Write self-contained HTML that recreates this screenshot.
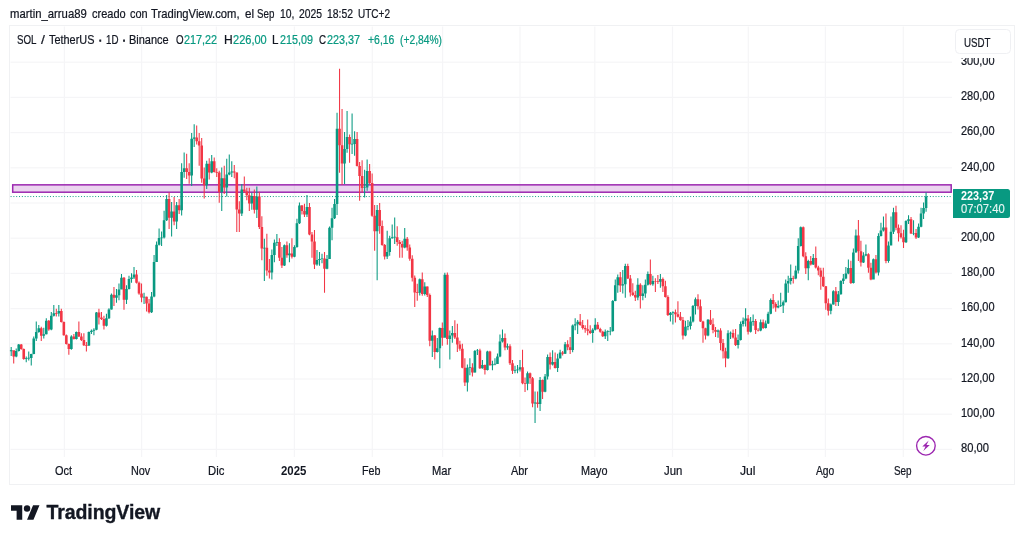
<!DOCTYPE html>
<html lang="es">
<head>
<meta charset="utf-8">
<title>SOL / TetherUS · 1D · Binance — TradingView</title>
<style>
html,body{margin:0;padding:0;background:#fff;}
body{width:1024px;height:541px;position:relative;overflow:hidden;font-family:"Liberation Sans",sans-serif;color:#131722;font-size:12.2px;line-height:14px;}
.abs{position:absolute;}
.w{position:absolute;white-space:pre;transform-origin:0 0;font-size:12.2px;line-height:14px;color:#131722;-webkit-text-stroke:0.22px currentColor;}
.w.g{color:#089981;}
.w.dot{-webkit-text-stroke:0.7px currentColor;}
.w.b,.w.pp{font-weight:700;-webkit-text-stroke:0;}
.w.pp{color:#fff;}
.w.pt{color:rgba(255,255,255,0.88);-webkit-text-stroke:0.15px currentColor;}
#frame{left:8.6px;top:24.6px;width:1004.9px;height:458.3px;border:1.6px solid #f0f1f3;box-sizing:content-box;}
#chart{position:absolute;left:0;top:0;width:1024px;height:541px;}
#grid rect{fill:#f5f5f7;}
#candles .g{fill:#089981;}
#candles .r{fill:#f23645;}
#mask{left:953px;top:26.5px;width:60px;height:31px;background:#fff;}
#usdt{left:955.2px;top:28.6px;width:56px;height:25.8px;border:1.2px solid #eff0f3;border-radius:4.5px;background:#fff;box-sizing:border-box;}
#plabel{left:952.9px;top:188.5px;width:56.9px;height:29.3px;background:#089981;border-radius:0.5px 2.5px 2.5px 0.5px;}
#logo{left:11.15px;top:501.75px;}
#logotext{left:46.5px;top:501.4px;font-size:19.5px;line-height:22px;font-weight:700;letter-spacing:-0.08px;-webkit-text-stroke:0.35px #131722;color:#131722;white-space:pre;}
</style>
</head>
<body>
<div id="frame" class="abs"></div>
<svg id="chart" width="1024" height="541" viewBox="0 0 1024 541">
<g id="grid">
<rect x="63.80" y="26.5" width="1.2" height="430.5"/>
<rect x="141.00" y="26.5" width="1.2" height="430.5"/>
<rect x="215.80" y="26.5" width="1.2" height="430.5"/>
<rect x="293.80" y="26.5" width="1.2" height="430.5"/>
<rect x="371.70" y="26.5" width="1.2" height="430.5"/>
<rect x="442.00" y="26.5" width="1.2" height="430.5"/>
<rect x="519.40" y="26.5" width="1.2" height="430.5"/>
<rect x="594.20" y="26.5" width="1.2" height="430.5"/>
<rect x="671.90" y="26.5" width="1.2" height="430.5"/>
<rect x="747.70" y="26.5" width="1.2" height="430.5"/>
<rect x="824.80" y="26.5" width="1.2" height="430.5"/>
<rect x="902.70" y="26.5" width="1.2" height="430.5"/>
<rect x="10.5" y="448.80" width="941.5" height="1.2"/>
<rect x="10.5" y="413.60" width="941.5" height="1.2"/>
<rect x="10.5" y="378.40" width="941.5" height="1.2"/>
<rect x="10.5" y="343.20" width="941.5" height="1.2"/>
<rect x="10.5" y="308.00" width="941.5" height="1.2"/>
<rect x="10.5" y="272.80" width="941.5" height="1.2"/>
<rect x="10.5" y="237.60" width="941.5" height="1.2"/>
<rect x="10.5" y="202.40" width="941.5" height="1.2"/>
<rect x="10.5" y="167.20" width="941.5" height="1.2"/>
<rect x="10.5" y="132.00" width="941.5" height="1.2"/>
<rect x="10.5" y="96.80" width="941.5" height="1.2"/>
<rect x="10.5" y="61.60" width="941.5" height="1.2"/>
</g>
<rect x="12.7" y="184.85" width="938.5" height="7.35" fill="rgba(156,39,176,0.2)" stroke="#9c27b0" stroke-width="1.5"/>
<line x1="10.6" x2="952" y1="196.55" y2="196.55" stroke="#089981" stroke-width="1" stroke-dasharray="0.95 1.87"/>
<g id="candles">
<path class="g" d="M10.67 347.1h1.05V355.9h-1.05zM9.90 350.3h2.6V351.3h-2.6z"/>
<path class="r" d="M13.18 350.3h1.05V363.5h-1.05zM12.41 350.3h2.6V356.6h-2.6z"/>
<path class="g" d="M15.69 348.4h1.05V357.2h-1.05zM14.91 350.9h2.6V356.6h-2.6z"/>
<path class="g" d="M18.19 344.0h1.05V351.6h-1.05zM17.42 344.6h2.6V350.9h-2.6z"/>
<path class="r" d="M20.70 344.0h1.05V349.7h-1.05zM19.93 344.6h2.6V349.0h-2.6z"/>
<path class="r" d="M23.21 348.4h1.05V359.7h-1.05zM22.43 349.0h2.6V359.1h-2.6z"/>
<path class="g" d="M25.71 356.6h1.05V362.2h-1.05zM24.94 358.2h2.6V359.1h-2.6z"/>
<path class="g" d="M28.22 351.6h1.05V360.4h-1.05zM27.45 357.8h2.6V358.5h-2.6z"/>
<path class="g" d="M30.73 353.8h1.05V365.4h-1.05zM29.95 354.1h2.6V358.1h-2.6z"/>
<path class="g" d="M33.23 336.5h1.05V354.3h-1.05zM32.46 338.4h2.6V354.1h-2.6z"/>
<path class="g" d="M35.74 321.4h1.05V340.9h-1.05zM34.97 332.1h2.6V338.4h-2.6z"/>
<path class="g" d="M38.25 325.1h1.05V332.7h-1.05zM37.47 328.3h2.6V332.1h-2.6z"/>
<path class="r" d="M40.75 326.7h1.05V340.9h-1.05zM39.98 328.3h2.6V335.8h-2.6z"/>
<path class="g" d="M43.26 327.7h1.05V338.4h-1.05zM42.48 334.2h2.6V335.8h-2.6z"/>
<path class="g" d="M45.77 318.2h1.05V334.6h-1.05zM44.99 320.8h2.6V334.2h-2.6z"/>
<path class="r" d="M48.27 320.1h1.05V330.8h-1.05zM47.50 320.8h2.6V329.6h-2.6z"/>
<path class="g" d="M50.78 311.9h1.05V330.2h-1.05zM50.00 315.7h2.6V329.6h-2.6z"/>
<path class="g" d="M53.29 305.0h1.05V316.4h-1.05zM52.51 313.2h2.6V315.7h-2.6z"/>
<path class="r" d="M55.79 308.8h1.05V316.4h-1.05zM55.02 313.0h2.6V313.7h-2.6z"/>
<path class="g" d="M58.30 305.0h1.05V316.4h-1.05zM57.52 310.9h2.6V313.6h-2.6z"/>
<path class="r" d="M60.80 308.8h1.05V322.6h-1.05zM60.03 310.9h2.6V322.0h-2.6z"/>
<path class="r" d="M63.31 321.4h1.05V335.8h-1.05zM62.54 322.0h2.6V335.2h-2.6z"/>
<path class="r" d="M65.82 334.6h1.05V344.6h-1.05zM65.04 335.2h2.6V344.0h-2.6z"/>
<path class="r" d="M68.32 343.4h1.05V354.7h-1.05zM67.55 344.0h2.6V349.0h-2.6z"/>
<path class="g" d="M70.83 335.2h1.05V349.7h-1.05zM70.06 336.5h2.6V349.0h-2.6z"/>
<path class="r" d="M73.34 333.9h1.05V339.6h-1.05zM72.56 336.5h2.6V339.0h-2.6z"/>
<path class="g" d="M75.84 331.4h1.05V339.6h-1.05zM75.07 332.1h2.6V339.0h-2.6z"/>
<path class="r" d="M78.35 321.4h1.05V337.1h-1.05zM77.58 332.1h2.6V336.5h-2.6z"/>
<path class="r" d="M80.86 333.3h1.05V340.9h-1.05zM80.08 336.5h2.6V340.0h-2.6z"/>
<path class="r" d="M83.36 333.3h1.05V345.9h-1.05zM82.59 340.0h2.6V345.3h-2.6z"/>
<path class="r" d="M85.87 342.1h1.05V351.6h-1.05zM85.09 345.0h2.6V345.7h-2.6z"/>
<path class="g" d="M88.38 331.4h1.05V345.9h-1.05zM87.60 332.1h2.6V345.5h-2.6z"/>
<path class="g" d="M90.88 329.6h1.05V333.9h-1.05zM90.11 330.8h2.6V332.1h-2.6z"/>
<path class="g" d="M93.39 328.3h1.05V335.2h-1.05zM92.61 329.8h2.6V330.8h-2.6z"/>
<path class="g" d="M95.90 311.9h1.05V330.2h-1.05zM95.12 312.6h2.6V329.8h-2.6z"/>
<path class="r" d="M98.40 308.8h1.05V324.5h-1.05zM97.63 312.6h2.6V317.6h-2.6z"/>
<path class="r" d="M100.91 311.9h1.05V320.1h-1.05zM100.13 317.6h2.6V318.9h-2.6z"/>
<path class="r" d="M103.42 315.7h1.05V329.6h-1.05zM102.64 318.9h2.6V325.8h-2.6z"/>
<path class="g" d="M105.92 313.8h1.05V326.4h-1.05zM105.15 318.2h2.6V325.8h-2.6z"/>
<path class="g" d="M108.43 308.2h1.05V318.9h-1.05zM107.65 309.4h2.6V318.2h-2.6z"/>
<path class="g" d="M110.93 293.4h1.05V309.8h-1.05zM110.16 294.7h2.6V309.4h-2.6z"/>
<path class="r" d="M113.44 287.1h1.05V306.0h-1.05zM112.67 294.7h2.6V297.8h-2.6z"/>
<path class="g" d="M115.95 289.0h1.05V302.8h-1.05zM115.17 295.3h2.6V297.8h-2.6z"/>
<path class="g" d="M118.45 283.4h1.05V300.3h-1.05zM117.68 289.6h2.6V295.3h-2.6z"/>
<path class="g" d="M120.96 273.9h1.05V289.6h-1.05zM120.19 277.7h2.6V289.6h-2.6z"/>
<path class="r" d="M123.47 277.1h1.05V309.8h-1.05zM122.69 277.7h2.6V299.7h-2.6z"/>
<path class="g" d="M125.97 285.2h1.05V304.1h-1.05zM125.20 289.0h2.6V299.7h-2.6z"/>
<path class="g" d="M128.48 275.8h1.05V289.6h-1.05zM127.71 278.9h2.6V289.0h-2.6z"/>
<path class="g" d="M130.99 273.3h1.05V282.7h-1.05zM130.21 277.4h2.6V278.9h-2.6z"/>
<path class="g" d="M133.49 267.0h1.05V278.9h-1.05zM132.72 274.6h2.6V277.4h-2.6z"/>
<path class="r" d="M136.00 270.1h1.05V283.4h-1.05zM135.22 274.6h2.6V282.7h-2.6z"/>
<path class="r" d="M138.51 281.5h1.05V294.7h-1.05zM137.73 282.7h2.6V293.4h-2.6z"/>
<path class="r" d="M141.01 283.4h1.05V302.2h-1.05zM140.24 293.4h2.6V297.6h-2.6z"/>
<path class="g" d="M143.52 292.8h1.05V304.1h-1.05zM142.74 296.8h2.6V297.6h-2.6z"/>
<path class="r" d="M146.03 296.6h1.05V311.6h-1.05zM145.25 296.8h2.6V303.5h-2.6z"/>
<path class="r" d="M148.53 299.1h1.05V313.5h-1.05zM147.76 303.5h2.6V312.3h-2.6z"/>
<path class="g" d="M151.04 292.1h1.05V312.9h-1.05zM150.26 296.6h2.6V312.3h-2.6z"/>
<path class="g" d="M153.55 255.1h1.05V297.2h-1.05zM152.77 262.0h2.6V296.6h-2.6z"/>
<path class="g" d="M156.05 241.6h1.05V262.0h-1.05zM155.28 244.8h2.6V262.0h-2.6z"/>
<path class="g" d="M158.56 228.4h1.05V245.4h-1.05zM157.78 238.1h2.6V244.8h-2.6z"/>
<path class="g" d="M161.06 231.6h1.05V246.0h-1.05zM160.29 237.5h2.6V238.2h-2.6z"/>
<path class="g" d="M163.57 210.8h1.05V238.5h-1.05zM162.80 220.2h2.6V237.6h-2.6z"/>
<path class="g" d="M166.08 195.1h1.05V220.9h-1.05zM165.30 198.9h2.6V220.2h-2.6z"/>
<path class="r" d="M168.58 192.6h1.05V229.0h-1.05zM167.81 198.9h2.6V217.7h-2.6z"/>
<path class="g" d="M171.09 202.0h1.05V236.6h-1.05zM170.32 211.4h2.6V217.7h-2.6z"/>
<path class="r" d="M173.60 197.0h1.05V225.3h-1.05zM172.82 211.4h2.6V221.5h-2.6z"/>
<path class="g" d="M176.10 202.0h1.05V229.0h-1.05zM175.33 205.2h2.6V221.5h-2.6z"/>
<path class="r" d="M178.61 198.9h1.05V213.9h-1.05zM177.84 205.2h2.6V210.2h-2.6z"/>
<path class="g" d="M181.12 163.3h1.05V215.4h-1.05zM180.34 172.1h2.6V210.2h-2.6z"/>
<path class="g" d="M183.62 152.6h1.05V177.7h-1.05zM182.85 168.3h2.6V172.1h-2.6z"/>
<path class="r" d="M186.13 153.8h1.05V179.0h-1.05zM185.35 168.3h2.6V172.1h-2.6z"/>
<path class="r" d="M188.64 163.3h1.05V183.8h-1.05zM187.86 172.1h2.6V175.6h-2.6z"/>
<path class="g" d="M191.14 133.1h1.05V185.9h-1.05zM190.37 138.8h2.6V175.6h-2.6z"/>
<path class="g" d="M193.65 124.3h1.05V146.9h-1.05zM192.87 137.5h2.6V138.8h-2.6z"/>
<path class="r" d="M196.16 125.5h1.05V144.4h-1.05zM195.38 137.5h2.6V141.3h-2.6z"/>
<path class="r" d="M198.66 133.1h1.05V165.8h-1.05zM197.89 141.3h2.6V145.4h-2.6z"/>
<path class="r" d="M201.17 138.1h1.05V182.7h-1.05zM200.39 145.4h2.6V178.4h-2.6z"/>
<path class="r" d="M203.68 167.6h1.05V198.4h-1.05zM202.90 178.4h2.6V185.2h-2.6z"/>
<path class="g" d="M206.18 160.7h1.05V189.0h-1.05zM205.41 163.8h2.6V185.2h-2.6z"/>
<path class="r" d="M208.69 158.2h1.05V179.6h-1.05zM207.91 163.8h2.6V172.4h-2.6z"/>
<path class="g" d="M211.19 155.0h1.05V173.3h-1.05zM210.42 161.3h2.6V172.4h-2.6z"/>
<path class="r" d="M213.70 157.5h1.05V172.6h-1.05zM212.93 161.3h2.6V172.0h-2.6z"/>
<path class="r" d="M216.21 168.2h1.05V177.0h-1.05zM215.43 172.0h2.6V172.7h-2.6z"/>
<path class="r" d="M218.71 170.8h1.05V202.8h-1.05zM217.94 172.6h2.6V192.1h-2.6z"/>
<path class="g" d="M221.22 167.6h1.05V211.0h-1.05zM220.45 178.3h2.6V192.1h-2.6z"/>
<path class="r" d="M223.73 165.7h1.05V194.0h-1.05zM222.95 178.3h2.6V187.5h-2.6z"/>
<path class="g" d="M226.23 158.8h1.05V196.5h-1.05zM225.46 174.5h2.6V187.5h-2.6z"/>
<path class="g" d="M228.74 154.4h1.05V175.2h-1.05zM227.97 172.4h2.6V174.5h-2.6z"/>
<path class="g" d="M231.25 161.3h1.05V177.0h-1.05zM230.47 171.6h2.6V172.4h-2.6z"/>
<path class="r" d="M233.75 165.1h1.05V178.3h-1.05zM232.98 171.6h2.6V172.6h-2.6z"/>
<path class="r" d="M236.26 172.3h1.05V232.0h-1.05zM235.48 172.6h2.6V209.4h-2.6z"/>
<path class="r" d="M238.77 201.2h1.05V232.0h-1.05zM237.99 209.4h2.6V213.6h-2.6z"/>
<path class="g" d="M241.27 183.9h1.05V216.0h-1.05zM240.50 189.6h2.6V213.6h-2.6z"/>
<path class="r" d="M243.78 176.4h1.05V192.8h-1.05zM243.00 189.6h2.6V191.5h-2.6z"/>
<path class="r" d="M246.29 187.7h1.05V200.3h-1.05zM245.51 191.5h2.6V195.3h-2.6z"/>
<path class="r" d="M248.79 187.7h1.05V211.0h-1.05zM248.02 195.3h2.6V203.4h-2.6z"/>
<path class="g" d="M251.30 192.8h1.05V209.7h-1.05zM250.52 195.9h2.6V203.4h-2.6z"/>
<path class="r" d="M253.81 189.6h1.05V213.5h-1.05zM253.03 195.9h2.6V209.7h-2.6z"/>
<path class="g" d="M256.31 186.5h1.05V217.9h-1.05zM255.54 196.5h2.6V209.7h-2.6z"/>
<path class="r" d="M258.82 191.8h1.05V228.9h-1.05zM258.04 196.5h2.6V227.0h-2.6z"/>
<path class="r" d="M261.33 216.3h1.05V260.3h-1.05zM260.55 227.0h2.6V248.4h-2.6z"/>
<path class="g" d="M263.83 238.7h1.05V280.9h-1.05zM263.06 247.7h2.6V248.4h-2.6z"/>
<path class="r" d="M266.34 233.7h1.05V275.8h-1.05zM265.56 247.8h2.6V270.6h-2.6z"/>
<path class="r" d="M268.84 258.9h1.05V278.4h-1.05zM268.07 270.6h2.6V272.4h-2.6z"/>
<path class="g" d="M271.35 249.4h1.05V279.6h-1.05zM270.58 255.1h2.6V272.4h-2.6z"/>
<path class="g" d="M273.86 239.6h1.05V262.2h-1.05zM273.08 242.7h2.6V255.1h-2.6z"/>
<path class="g" d="M276.36 233.9h1.05V245.9h-1.05zM275.59 242.1h2.6V242.8h-2.6z"/>
<path class="r" d="M278.87 238.3h1.05V260.9h-1.05zM278.10 242.1h2.6V257.8h-2.6z"/>
<path class="r" d="M281.38 247.1h1.05V267.9h-1.05zM280.60 257.8h2.6V265.4h-2.6z"/>
<path class="g" d="M283.88 244.6h1.05V266.0h-1.05zM283.11 245.2h2.6V265.4h-2.6z"/>
<path class="r" d="M286.39 241.5h1.05V257.8h-1.05zM285.61 245.2h2.6V255.3h-2.6z"/>
<path class="g" d="M288.90 243.3h1.05V262.2h-1.05zM288.12 253.4h2.6V255.3h-2.6z"/>
<path class="r" d="M291.40 238.3h1.05V258.4h-1.05zM290.63 253.4h2.6V256.8h-2.6z"/>
<path class="g" d="M293.91 245.2h1.05V257.2h-1.05zM293.13 247.1h2.6V256.8h-2.6z"/>
<path class="g" d="M296.42 218.8h1.05V247.8h-1.05zM295.64 223.2h2.6V247.1h-2.6z"/>
<path class="g" d="M298.92 202.5h1.05V223.9h-1.05zM298.15 205.4h2.6V223.2h-2.6z"/>
<path class="r" d="M301.43 205.0h1.05V214.4h-1.05zM300.65 205.4h2.6V211.0h-2.6z"/>
<path class="r" d="M303.94 203.7h1.05V216.9h-1.05zM303.16 211.0h2.6V214.4h-2.6z"/>
<path class="g" d="M306.44 194.9h1.05V216.9h-1.05zM305.67 206.9h2.6V214.4h-2.6z"/>
<path class="r" d="M308.95 203.1h1.05V235.2h-1.05zM308.17 206.9h2.6V234.6h-2.6z"/>
<path class="r" d="M311.45 232.0h1.05V257.8h-1.05zM310.68 234.6h2.6V241.5h-2.6z"/>
<path class="r" d="M313.96 229.9h1.05V268.9h-1.05zM313.19 241.5h2.6V264.5h-2.6z"/>
<path class="g" d="M316.47 250.1h1.05V265.8h-1.05zM315.69 260.1h2.6V264.5h-2.6z"/>
<path class="g" d="M318.97 251.9h1.05V265.8h-1.05zM318.20 259.1h2.6V260.1h-2.6z"/>
<path class="g" d="M321.48 253.8h1.05V263.3h-1.05zM320.71 258.4h2.6V259.1h-2.6z"/>
<path class="r" d="M323.99 251.9h1.05V292.8h-1.05zM323.21 258.5h2.6V268.7h-2.6z"/>
<path class="g" d="M326.49 255.1h1.05V269.2h-1.05zM325.72 258.9h2.6V268.7h-2.6z"/>
<path class="g" d="M329.00 226.5h1.05V258.9h-1.05zM328.23 227.8h2.6V258.9h-2.6z"/>
<path class="g" d="M331.51 207.7h1.05V240.3h-1.05zM330.73 218.3h2.6V227.8h-2.6z"/>
<path class="g" d="M334.01 198.9h1.05V219.0h-1.05zM333.24 203.9h2.6V218.3h-2.6z"/>
<path class="g" d="M336.52 112.8h1.05V214.9h-1.05zM335.74 128.8h2.6V203.9h-2.6z"/>
<path class="r" d="M339.03 68.8h1.05V172.8h-1.05zM338.25 128.8h2.6V145.2h-2.6z"/>
<path class="r" d="M341.53 109.1h1.05V184.8h-1.05zM340.76 145.2h2.6V163.4h-2.6z"/>
<path class="g" d="M344.04 131.9h1.05V184.1h-1.05zM343.26 148.9h2.6V163.4h-2.6z"/>
<path class="g" d="M346.55 111.0h1.05V152.7h-1.05zM345.77 137.0h2.6V148.9h-2.6z"/>
<path class="r" d="M349.05 134.5h1.05V162.8h-1.05zM348.28 137.0h2.6V144.3h-2.6z"/>
<path class="g" d="M351.56 113.5h1.05V153.9h-1.05zM350.78 143.7h2.6V144.4h-2.6z"/>
<path class="g" d="M354.07 131.3h1.05V155.8h-1.05zM353.29 138.9h2.6V143.9h-2.6z"/>
<path class="r" d="M356.57 131.9h1.05V166.5h-1.05zM355.80 138.9h2.6V165.9h-2.6z"/>
<path class="r" d="M359.08 162.1h1.05V200.7h-1.05zM358.30 165.9h2.6V175.9h-2.6z"/>
<path class="r" d="M361.58 160.2h1.05V192.6h-1.05zM360.81 175.9h2.6V187.9h-2.6z"/>
<path class="g" d="M364.09 169.7h1.05V197.6h-1.05zM363.32 187.4h2.6V188.1h-2.6z"/>
<path class="g" d="M366.60 159.6h1.05V190.7h-1.05zM365.82 170.9h2.6V187.5h-2.6z"/>
<path class="r" d="M369.10 164.0h1.05V184.1h-1.05zM368.33 170.9h2.6V182.9h-2.6z"/>
<path class="r" d="M371.61 173.4h1.05V216.8h-1.05zM370.84 182.9h2.6V215.8h-2.6z"/>
<path class="r" d="M374.12 204.9h1.05V250.8h-1.05zM373.34 215.8h2.6V231.3h-2.6z"/>
<path class="g" d="M376.62 204.9h1.05V280.3h-1.05zM375.85 209.9h2.6V231.3h-2.6z"/>
<path class="r" d="M379.13 203.0h1.05V233.8h-1.05zM378.36 209.9h2.6V226.0h-2.6z"/>
<path class="r" d="M381.64 220.6h1.05V245.8h-1.05zM380.86 226.0h2.6V245.1h-2.6z"/>
<path class="r" d="M384.14 243.9h1.05V259.6h-1.05zM383.37 245.1h2.6V256.4h-2.6z"/>
<path class="g" d="M386.65 230.7h1.05V258.9h-1.05zM385.87 252.0h2.6V256.4h-2.6z"/>
<path class="g" d="M389.16 235.7h1.05V255.8h-1.05zM388.38 238.2h2.6V252.0h-2.6z"/>
<path class="g" d="M391.66 224.4h1.05V238.8h-1.05zM390.89 237.2h2.6V238.2h-2.6z"/>
<path class="g" d="M394.17 217.5h1.05V243.9h-1.05zM393.39 236.8h2.6V237.5h-2.6z"/>
<path class="r" d="M396.68 226.3h1.05V245.8h-1.05zM395.90 237.2h2.6V242.0h-2.6z"/>
<path class="r" d="M399.18 240.1h1.05V257.7h-1.05zM398.41 242.0h2.6V243.9h-2.6z"/>
<path class="r" d="M401.69 240.7h1.05V257.7h-1.05zM400.91 243.9h2.6V247.6h-2.6z"/>
<path class="g" d="M404.20 228.1h1.05V248.3h-1.05zM403.42 238.8h2.6V247.6h-2.6z"/>
<path class="r" d="M406.70 236.9h1.05V250.8h-1.05zM405.93 238.8h2.6V247.4h-2.6z"/>
<path class="r" d="M409.21 244.5h1.05V260.8h-1.05zM408.43 247.4h2.6V258.7h-2.6z"/>
<path class="r" d="M411.71 255.2h1.05V281.6h-1.05zM410.94 258.7h2.6V277.8h-2.6z"/>
<path class="r" d="M414.22 275.6h1.05V307.0h-1.05zM413.45 277.8h2.6V292.5h-2.6z"/>
<path class="r" d="M416.73 283.7h1.05V300.7h-1.05zM415.95 292.3h2.6V293.0h-2.6z"/>
<path class="g" d="M419.23 278.4h1.05V295.4h-1.05zM418.46 279.3h2.6V292.8h-2.6z"/>
<path class="r" d="M421.74 272.4h1.05V295.7h-1.05zM420.97 279.3h2.6V294.1h-2.6z"/>
<path class="g" d="M424.25 282.2h1.05V295.4h-1.05zM423.47 286.6h2.6V294.1h-2.6z"/>
<path class="r" d="M426.75 286.3h1.05V296.9h-1.05zM425.98 286.6h2.6V295.1h-2.6z"/>
<path class="r" d="M429.26 293.5h1.05V346.3h-1.05zM428.49 295.1h2.6V340.7h-2.6z"/>
<path class="g" d="M431.77 330.6h1.05V357.0h-1.05zM430.99 335.4h2.6V340.7h-2.6z"/>
<path class="r" d="M434.27 335.0h1.05V359.5h-1.05zM433.50 335.4h2.6V352.0h-2.6z"/>
<path class="g" d="M436.78 338.1h1.05V352.6h-1.05zM436.00 348.2h2.6V352.0h-2.6z"/>
<path class="g" d="M439.29 327.5h1.05V368.3h-1.05zM438.51 328.1h2.6V348.2h-2.6z"/>
<path class="r" d="M441.79 322.4h1.05V345.7h-1.05zM441.02 328.1h2.6V337.8h-2.6z"/>
<path class="g" d="M444.30 272.8h1.05V337.8h-1.05zM443.52 274.7h2.6V337.8h-2.6z"/>
<path class="r" d="M446.81 272.4h1.05V344.7h-1.05zM446.03 274.7h2.6V339.1h-2.6z"/>
<path class="g" d="M449.31 330.6h1.05V359.5h-1.05zM448.54 335.4h2.6V339.1h-2.6z"/>
<path class="g" d="M451.82 325.9h1.05V342.8h-1.05zM451.04 333.0h2.6V335.4h-2.6z"/>
<path class="r" d="M454.33 320.2h1.05V339.1h-1.05zM453.55 333.0h2.6V337.6h-2.6z"/>
<path class="r" d="M456.83 323.7h1.05V352.0h-1.05zM456.06 337.6h2.6V344.4h-2.6z"/>
<path class="r" d="M459.34 340.7h1.05V350.7h-1.05zM458.56 344.4h2.6V348.8h-2.6z"/>
<path class="r" d="M461.85 343.8h1.05V368.3h-1.05zM461.07 348.8h2.6V367.7h-2.6z"/>
<path class="r" d="M464.35 358.3h1.05V385.9h-1.05zM463.58 367.7h2.6V382.5h-2.6z"/>
<path class="g" d="M466.86 364.6h1.05V391.6h-1.05zM466.08 367.7h2.6V382.5h-2.6z"/>
<path class="g" d="M469.36 358.3h1.05V375.2h-1.05zM468.59 367.2h2.6V367.9h-2.6z"/>
<path class="r" d="M471.87 363.3h1.05V376.5h-1.05zM471.10 367.4h2.6V372.5h-2.6z"/>
<path class="g" d="M474.38 350.1h1.05V372.7h-1.05zM473.60 351.0h2.6V372.5h-2.6z"/>
<path class="g" d="M476.88 349.1h1.05V355.1h-1.05zM476.11 350.4h2.6V351.1h-2.6z"/>
<path class="r" d="M479.39 348.8h1.05V368.9h-1.05zM478.62 350.5h2.6V368.3h-2.6z"/>
<path class="g" d="M481.90 360.1h1.05V368.7h-1.05zM481.12 364.9h2.6V368.3h-2.6z"/>
<path class="r" d="M484.40 364.6h1.05V374.6h-1.05zM483.63 364.9h2.6V369.9h-2.6z"/>
<path class="g" d="M486.91 350.7h1.05V370.5h-1.05zM486.13 351.4h2.6V369.9h-2.6z"/>
<path class="r" d="M489.42 350.7h1.05V365.8h-1.05zM488.64 351.4h2.6V365.2h-2.6z"/>
<path class="g" d="M491.92 360.8h1.05V370.2h-1.05zM491.15 364.3h2.6V365.2h-2.6z"/>
<path class="g" d="M494.43 358.3h1.05V365.2h-1.05zM493.65 363.8h2.6V364.5h-2.6z"/>
<path class="g" d="M496.94 353.5h1.05V363.9h-1.05zM496.16 356.6h2.6V363.9h-2.6z"/>
<path class="g" d="M499.44 334.6h1.05V357.2h-1.05zM498.67 341.5h2.6V356.6h-2.6z"/>
<path class="g" d="M501.95 329.6h1.05V342.5h-1.05zM501.17 338.0h2.6V341.5h-2.6z"/>
<path class="r" d="M504.46 333.4h1.05V350.3h-1.05zM503.68 338.0h2.6V347.6h-2.6z"/>
<path class="g" d="M506.96 343.4h1.05V349.7h-1.05zM506.19 346.2h2.6V347.6h-2.6z"/>
<path class="r" d="M509.47 344.3h1.05V365.1h-1.05zM508.69 346.2h2.6V363.2h-2.6z"/>
<path class="r" d="M511.98 360.0h1.05V373.9h-1.05zM511.20 363.2h2.6V370.7h-2.6z"/>
<path class="g" d="M514.48 365.7h1.05V373.2h-1.05zM513.71 370.1h2.6V370.8h-2.6z"/>
<path class="g" d="M516.99 365.1h1.05V373.2h-1.05zM516.21 369.5h2.6V370.2h-2.6z"/>
<path class="g" d="M519.49 360.0h1.05V371.6h-1.05zM518.72 367.2h2.6V369.6h-2.6z"/>
<path class="r" d="M522.00 349.7h1.05V384.3h-1.05zM521.23 367.2h2.6V383.3h-2.6z"/>
<path class="r" d="M524.51 377.6h1.05V392.1h-1.05zM523.73 383.1h2.6V383.8h-2.6z"/>
<path class="g" d="M527.01 371.4h1.05V390.2h-1.05zM526.24 373.2h2.6V383.7h-2.6z"/>
<path class="r" d="M529.52 372.6h1.05V383.9h-1.05zM528.75 373.2h2.6V378.3h-2.6z"/>
<path class="r" d="M532.03 377.0h1.05V407.2h-1.05zM531.25 378.3h2.6V403.4h-2.6z"/>
<path class="g" d="M534.53 391.5h1.05V422.9h-1.05zM533.76 402.5h2.6V403.4h-2.6z"/>
<path class="r" d="M537.04 391.5h1.05V407.8h-1.05zM536.27 402.5h2.6V404.0h-2.6z"/>
<path class="g" d="M539.55 377.0h1.05V410.9h-1.05zM538.77 380.1h2.6V404.0h-2.6z"/>
<path class="r" d="M542.05 379.5h1.05V399.0h-1.05zM541.28 380.1h2.6V391.8h-2.6z"/>
<path class="g" d="M544.56 373.9h1.05V392.3h-1.05zM543.78 376.6h2.6V391.8h-2.6z"/>
<path class="g" d="M547.07 354.4h1.05V379.5h-1.05zM546.29 357.1h2.6V376.6h-2.6z"/>
<path class="r" d="M549.57 352.5h1.05V369.5h-1.05zM548.80 357.1h2.6V364.4h-2.6z"/>
<path class="g" d="M552.08 350.3h1.05V365.4h-1.05zM551.30 362.1h2.6V364.4h-2.6z"/>
<path class="r" d="M554.59 352.5h1.05V368.6h-1.05zM553.81 362.1h2.6V367.9h-2.6z"/>
<path class="g" d="M557.09 353.7h1.05V372.0h-1.05zM556.32 358.4h2.6V367.9h-2.6z"/>
<path class="g" d="M559.60 349.7h1.05V358.5h-1.05zM558.82 352.5h2.6V358.4h-2.6z"/>
<path class="r" d="M562.11 350.9h1.05V355.4h-1.05zM561.33 352.5h2.6V353.8h-2.6z"/>
<path class="g" d="M564.61 342.1h1.05V354.1h-1.05zM563.84 344.3h2.6V353.8h-2.6z"/>
<path class="r" d="M567.12 340.3h1.05V350.3h-1.05zM566.34 344.3h2.6V347.2h-2.6z"/>
<path class="r" d="M569.62 337.1h1.05V354.1h-1.05zM568.85 347.2h2.6V350.1h-2.6z"/>
<path class="g" d="M572.13 324.6h1.05V352.2h-1.05zM571.36 325.4h2.6V350.1h-2.6z"/>
<path class="g" d="M574.64 318.3h1.05V330.2h-1.05zM573.86 324.2h2.6V325.4h-2.6z"/>
<path class="g" d="M577.14 320.1h1.05V334.0h-1.05zM576.37 321.7h2.6V324.2h-2.6z"/>
<path class="r" d="M579.65 313.9h1.05V325.8h-1.05zM578.88 321.7h2.6V324.9h-2.6z"/>
<path class="r" d="M582.16 320.1h1.05V329.6h-1.05zM581.38 324.9h2.6V327.9h-2.6z"/>
<path class="r" d="M584.66 325.2h1.05V332.7h-1.05zM583.89 327.9h2.6V329.2h-2.6z"/>
<path class="r" d="M587.17 319.5h1.05V335.2h-1.05zM586.40 329.2h2.6V330.8h-2.6z"/>
<path class="r" d="M589.68 325.2h1.05V334.0h-1.05zM588.90 330.8h2.6V333.1h-2.6z"/>
<path class="g" d="M592.18 328.3h1.05V342.8h-1.05zM591.41 329.8h2.6V333.1h-2.6z"/>
<path class="g" d="M594.69 318.3h1.05V330.5h-1.05zM593.91 324.8h2.6V329.8h-2.6z"/>
<path class="r" d="M597.20 322.0h1.05V329.6h-1.05zM596.42 324.8h2.6V328.9h-2.6z"/>
<path class="r" d="M599.70 327.7h1.05V332.7h-1.05zM598.93 328.9h2.6V331.8h-2.6z"/>
<path class="r" d="M602.21 330.8h1.05V337.1h-1.05zM601.43 331.8h2.6V336.2h-2.6z"/>
<path class="g" d="M604.72 329.6h1.05V339.0h-1.05zM603.94 331.7h2.6V336.2h-2.6z"/>
<path class="g" d="M607.22 330.2h1.05V340.9h-1.05zM606.45 331.2h2.6V331.9h-2.6z"/>
<path class="g" d="M609.73 327.1h1.05V335.2h-1.05zM608.95 330.9h2.6V331.6h-2.6z"/>
<path class="g" d="M612.24 300.0h1.05V331.7h-1.05zM611.46 300.9h2.6V331.1h-2.6z"/>
<path class="g" d="M614.74 279.5h1.05V301.3h-1.05zM613.97 285.2h2.6V300.9h-2.6z"/>
<path class="g" d="M617.25 274.5h1.05V292.7h-1.05zM616.47 277.3h2.6V285.2h-2.6z"/>
<path class="r" d="M619.75 272.0h1.05V292.1h-1.05zM618.98 277.3h2.6V285.6h-2.6z"/>
<path class="g" d="M622.26 270.1h1.05V293.4h-1.05zM621.49 284.2h2.6V285.6h-2.6z"/>
<path class="g" d="M624.77 263.8h1.05V297.8h-1.05zM623.99 265.9h2.6V284.2h-2.6z"/>
<path class="r" d="M627.27 263.8h1.05V279.1h-1.05zM626.50 265.9h2.6V278.6h-2.6z"/>
<path class="r" d="M629.78 275.1h1.05V296.5h-1.05zM629.01 278.6h2.6V292.5h-2.6z"/>
<path class="r" d="M632.29 283.3h1.05V295.9h-1.05zM631.51 292.5h2.6V295.0h-2.6z"/>
<path class="r" d="M634.79 290.8h1.05V300.9h-1.05zM634.02 295.0h2.6V297.5h-2.6z"/>
<path class="g" d="M637.30 278.3h1.05V300.3h-1.05zM636.53 284.8h2.6V297.5h-2.6z"/>
<path class="r" d="M639.81 283.3h1.05V308.4h-1.05zM639.03 284.8h2.6V295.9h-2.6z"/>
<path class="g" d="M642.31 285.2h1.05V300.3h-1.05zM641.54 293.6h2.6V295.9h-2.6z"/>
<path class="g" d="M644.82 279.5h1.05V297.8h-1.05zM644.04 284.8h2.6V293.6h-2.6z"/>
<path class="g" d="M647.33 271.4h1.05V285.4h-1.05zM646.55 274.1h2.6V284.8h-2.6z"/>
<path class="r" d="M649.83 259.4h1.05V285.2h-1.05zM649.06 274.1h2.6V284.3h-2.6z"/>
<path class="g" d="M652.34 275.8h1.05V285.8h-1.05zM651.56 281.0h2.6V284.3h-2.6z"/>
<path class="r" d="M654.85 278.3h1.05V292.1h-1.05zM654.07 280.9h2.6V281.6h-2.6z"/>
<path class="r" d="M657.35 275.1h1.05V283.9h-1.05zM656.58 281.2h2.6V281.9h-2.6z"/>
<path class="g" d="M659.86 273.9h1.05V287.7h-1.05zM659.08 279.1h2.6V281.7h-2.6z"/>
<path class="r" d="M662.37 277.6h1.05V292.1h-1.05zM661.59 279.1h2.6V286.2h-2.6z"/>
<path class="r" d="M664.87 280.8h1.05V297.5h-1.05zM664.10 286.2h2.6V296.9h-2.6z"/>
<path class="r" d="M667.38 295.2h1.05V316.0h-1.05zM666.60 296.9h2.6V315.1h-2.6z"/>
<path class="g" d="M669.88 311.9h1.05V321.4h-1.05zM669.11 312.9h2.6V315.1h-2.6z"/>
<path class="g" d="M672.39 311.3h1.05V324.5h-1.05zM671.62 312.3h2.6V313.0h-2.6z"/>
<path class="r" d="M674.90 309.4h1.05V322.6h-1.05zM674.12 312.3h2.6V314.2h-2.6z"/>
<path class="r" d="M677.40 301.3h1.05V317.6h-1.05zM676.63 314.2h2.6V316.7h-2.6z"/>
<path class="r" d="M679.91 311.9h1.05V320.8h-1.05zM679.14 316.7h2.6V319.9h-2.6z"/>
<path class="r" d="M682.42 317.0h1.05V339.6h-1.05zM681.64 319.9h2.6V335.6h-2.6z"/>
<path class="g" d="M684.92 320.8h1.05V336.2h-1.05zM684.15 326.7h2.6V335.6h-2.6z"/>
<path class="g" d="M687.43 320.1h1.05V330.2h-1.05zM686.66 326.0h2.6V326.7h-2.6z"/>
<path class="g" d="M689.94 316.4h1.05V329.6h-1.05zM689.16 321.6h2.6V326.0h-2.6z"/>
<path class="g" d="M692.44 305.0h1.05V322.4h-1.05zM691.67 305.9h2.6V321.6h-2.6z"/>
<path class="g" d="M694.95 297.5h1.05V314.5h-1.05zM694.17 299.2h2.6V305.9h-2.6z"/>
<path class="r" d="M697.46 294.3h1.05V309.4h-1.05zM696.68 299.2h2.6V306.3h-2.6z"/>
<path class="r" d="M699.96 299.4h1.05V322.0h-1.05zM699.19 306.3h2.6V321.4h-2.6z"/>
<path class="r" d="M702.47 320.8h1.05V342.8h-1.05zM701.69 321.4h2.6V328.3h-2.6z"/>
<path class="r" d="M704.98 327.7h1.05V339.6h-1.05zM704.20 328.3h2.6V335.6h-2.6z"/>
<path class="g" d="M707.48 318.9h1.05V336.2h-1.05zM706.71 319.7h2.6V335.6h-2.6z"/>
<path class="r" d="M709.99 310.1h1.05V325.1h-1.05zM709.21 319.7h2.6V324.3h-2.6z"/>
<path class="r" d="M712.50 318.2h1.05V333.3h-1.05zM711.72 324.3h2.6V329.9h-2.6z"/>
<path class="r" d="M715.00 327.0h1.05V337.1h-1.05zM714.23 329.9h2.6V331.8h-2.6z"/>
<path class="g" d="M717.51 329.6h1.05V337.7h-1.05zM716.73 330.6h2.6V331.8h-2.6z"/>
<path class="r" d="M720.01 328.3h1.05V350.3h-1.05zM719.24 330.6h2.6V343.1h-2.6z"/>
<path class="r" d="M722.52 339.0h1.05V358.5h-1.05zM721.75 343.1h2.6V351.3h-2.6z"/>
<path class="r" d="M725.03 347.8h1.05V367.3h-1.05zM724.25 351.3h2.6V358.2h-2.6z"/>
<path class="g" d="M727.53 330.2h1.05V359.1h-1.05zM726.76 333.3h2.6V358.2h-2.6z"/>
<path class="g" d="M730.04 331.4h1.05V339.0h-1.05zM729.27 332.8h2.6V333.5h-2.6z"/>
<path class="r" d="M732.55 329.6h1.05V338.4h-1.05zM731.77 332.9h2.6V337.5h-2.6z"/>
<path class="r" d="M735.05 328.9h1.05V345.9h-1.05zM734.28 337.5h2.6V345.0h-2.6z"/>
<path class="g" d="M737.56 334.6h1.05V348.4h-1.05zM736.79 339.9h2.6V345.0h-2.6z"/>
<path class="g" d="M740.07 321.4h1.05V340.5h-1.05zM739.29 324.1h2.6V339.9h-2.6z"/>
<path class="g" d="M742.57 317.6h1.05V326.4h-1.05zM741.80 320.8h2.6V324.1h-2.6z"/>
<path class="g" d="M745.08 308.2h1.05V326.4h-1.05zM744.30 318.5h2.6V320.8h-2.6z"/>
<path class="r" d="M747.59 315.1h1.05V334.6h-1.05zM746.81 318.5h2.6V331.8h-2.6z"/>
<path class="g" d="M750.09 317.0h1.05V332.4h-1.05zM749.32 321.6h2.6V331.8h-2.6z"/>
<path class="g" d="M752.60 314.5h1.05V325.8h-1.05zM751.82 321.0h2.6V321.7h-2.6z"/>
<path class="r" d="M755.11 318.9h1.05V333.9h-1.05zM754.33 321.1h2.6V329.9h-2.6z"/>
<path class="r" d="M757.61 328.3h1.05V331.4h-1.05zM756.84 329.9h2.6V330.6h-2.6z"/>
<path class="g" d="M760.12 319.5h1.05V331.2h-1.05zM759.34 322.3h2.6V330.6h-2.6z"/>
<path class="r" d="M762.62 319.5h1.05V328.9h-1.05zM761.85 322.3h2.6V328.0h-2.6z"/>
<path class="g" d="M765.13 320.5h1.05V328.6h-1.05zM764.36 323.4h2.6V328.0h-2.6z"/>
<path class="g" d="M767.64 311.7h1.05V323.9h-1.05zM766.86 313.8h2.6V323.4h-2.6z"/>
<path class="g" d="M770.14 298.5h1.05V314.2h-1.05zM769.37 300.0h2.6V313.8h-2.6z"/>
<path class="r" d="M772.65 294.1h1.05V308.5h-1.05zM771.88 300.0h2.6V303.9h-2.6z"/>
<path class="r" d="M775.16 302.2h1.05V311.7h-1.05zM774.38 303.9h2.6V307.6h-2.6z"/>
<path class="g" d="M777.66 300.4h1.05V308.3h-1.05zM776.89 306.0h2.6V307.6h-2.6z"/>
<path class="g" d="M780.17 292.8h1.05V307.0h-1.05zM779.40 305.3h2.6V306.0h-2.6z"/>
<path class="g" d="M782.68 300.4h1.05V312.9h-1.05zM781.90 302.2h2.6V305.4h-2.6z"/>
<path class="g" d="M785.18 279.6h1.05V302.5h-1.05zM784.41 283.6h2.6V302.2h-2.6z"/>
<path class="g" d="M787.69 275.8h1.05V292.8h-1.05zM786.92 280.9h2.6V283.6h-2.6z"/>
<path class="g" d="M790.20 264.5h1.05V284.6h-1.05zM789.42 278.1h2.6V280.9h-2.6z"/>
<path class="r" d="M792.70 275.8h1.05V283.4h-1.05zM791.93 278.0h2.6V278.7h-2.6z"/>
<path class="g" d="M795.21 265.8h1.05V279.2h-1.05zM794.43 270.4h2.6V278.6h-2.6z"/>
<path class="g" d="M797.72 238.3h1.05V273.5h-1.05zM796.94 245.9h2.6V270.4h-2.6z"/>
<path class="g" d="M800.22 226.4h1.05V246.5h-1.05zM799.45 227.3h2.6V245.9h-2.6z"/>
<path class="r" d="M802.73 226.4h1.05V257.2h-1.05zM801.95 227.3h2.6V256.3h-2.6z"/>
<path class="r" d="M805.24 252.2h1.05V273.9h-1.05zM804.46 256.3h2.6V268.2h-2.6z"/>
<path class="g" d="M807.74 259.7h1.05V280.2h-1.05zM806.97 260.9h2.6V268.2h-2.6z"/>
<path class="r" d="M810.25 255.9h1.05V265.4h-1.05zM809.47 260.9h2.6V264.4h-2.6z"/>
<path class="g" d="M812.75 254.0h1.05V265.1h-1.05zM811.98 258.1h2.6V264.4h-2.6z"/>
<path class="r" d="M815.26 246.5h1.05V268.5h-1.05zM814.49 258.1h2.6V267.6h-2.6z"/>
<path class="r" d="M817.77 265.8h1.05V275.2h-1.05zM816.99 267.6h2.6V270.6h-2.6z"/>
<path class="r" d="M820.27 267.7h1.05V289.7h-1.05zM819.50 270.6h2.6V276.8h-2.6z"/>
<path class="r" d="M822.78 267.7h1.05V287.1h-1.05zM822.01 276.8h2.6V286.3h-2.6z"/>
<path class="r" d="M825.29 285.9h1.05V309.8h-1.05zM824.51 286.3h2.6V303.2h-2.6z"/>
<path class="r" d="M827.79 298.5h1.05V315.4h-1.05zM827.02 303.2h2.6V310.8h-2.6z"/>
<path class="g" d="M830.30 303.5h1.05V314.2h-1.05zM829.53 304.4h2.6V310.8h-2.6z"/>
<path class="g" d="M832.81 290.3h1.05V304.8h-1.05zM832.03 291.2h2.6V304.4h-2.6z"/>
<path class="r" d="M835.31 287.1h1.05V306.0h-1.05zM834.54 291.2h2.6V302.0h-2.6z"/>
<path class="g" d="M837.82 290.9h1.05V306.0h-1.05zM837.05 294.3h2.6V302.0h-2.6z"/>
<path class="g" d="M840.33 280.2h1.05V294.7h-1.05zM839.55 281.1h2.6V294.3h-2.6z"/>
<path class="g" d="M842.83 273.9h1.05V284.0h-1.05zM842.06 278.6h2.6V281.1h-2.6z"/>
<path class="g" d="M845.34 267.0h1.05V279.2h-1.05zM844.56 273.6h2.6V278.6h-2.6z"/>
<path class="g" d="M847.85 259.5h1.05V274.2h-1.05zM847.07 267.9h2.6V273.6h-2.6z"/>
<path class="r" d="M850.35 260.7h1.05V284.0h-1.05zM849.58 267.9h2.6V283.1h-2.6z"/>
<path class="g" d="M852.86 248.4h1.05V283.6h-1.05zM852.08 252.4h2.6V283.1h-2.6z"/>
<path class="g" d="M855.37 229.5h1.05V252.8h-1.05zM854.59 235.4h2.6V252.4h-2.6z"/>
<path class="r" d="M857.87 220.1h1.05V260.9h-1.05zM857.10 235.4h2.6V251.3h-2.6z"/>
<path class="r" d="M860.38 240.8h1.05V266.6h-1.05zM859.60 251.3h2.6V262.6h-2.6z"/>
<path class="g" d="M862.89 252.2h1.05V263.1h-1.05zM862.11 255.6h2.6V262.6h-2.6z"/>
<path class="g" d="M865.39 244.6h1.05V256.3h-1.05zM864.62 254.3h2.6V255.6h-2.6z"/>
<path class="r" d="M867.90 253.2h1.05V272.7h-1.05zM867.12 254.3h2.6V267.7h-2.6z"/>
<path class="r" d="M870.40 262.7h1.05V280.3h-1.05zM869.63 267.7h2.6V279.4h-2.6z"/>
<path class="g" d="M872.91 258.4h1.05V279.4h-1.05zM872.14 259.3h2.6V279.4h-2.6z"/>
<path class="r" d="M875.42 255.1h1.05V273.4h-1.05zM874.64 259.3h2.6V272.5h-2.6z"/>
<path class="g" d="M877.92 233.3h1.05V275.4h-1.05zM877.15 236.1h2.6V272.5h-2.6z"/>
<path class="g" d="M880.43 222.8h1.05V236.6h-1.05zM879.66 230.6h2.6V236.1h-2.6z"/>
<path class="g" d="M882.94 216.5h1.05V231.6h-1.05zM882.16 227.4h2.6V230.6h-2.6z"/>
<path class="r" d="M885.44 213.4h1.05V263.3h-1.05zM884.67 227.4h2.6V261.1h-2.6z"/>
<path class="g" d="M887.95 241.5h1.05V262.8h-1.05zM887.18 245.5h2.6V261.1h-2.6z"/>
<path class="g" d="M890.46 216.5h1.05V245.5h-1.05zM889.68 231.8h2.6V245.5h-2.6z"/>
<path class="g" d="M892.96 207.7h1.05V234.1h-1.05zM892.19 212.3h2.6V231.8h-2.6z"/>
<path class="r" d="M895.47 205.8h1.05V230.3h-1.05zM894.69 212.3h2.6V227.8h-2.6z"/>
<path class="r" d="M897.98 224.6h1.05V241.6h-1.05zM897.20 227.8h2.6V233.2h-2.6z"/>
<path class="r" d="M900.48 225.3h1.05V238.5h-1.05zM899.71 233.2h2.6V237.2h-2.6z"/>
<path class="r" d="M902.99 229.7h1.05V247.9h-1.05zM902.21 237.2h2.6V242.2h-2.6z"/>
<path class="g" d="M905.50 220.2h1.05V242.9h-1.05zM904.72 221.1h2.6V242.2h-2.6z"/>
<path class="g" d="M908.00 215.2h1.05V224.0h-1.05zM907.23 219.2h2.6V221.1h-2.6z"/>
<path class="r" d="M910.51 217.1h1.05V234.1h-1.05zM909.73 219.2h2.6V233.4h-2.6z"/>
<path class="g" d="M913.02 220.2h1.05V235.3h-1.05zM912.24 232.9h2.6V233.6h-2.6z"/>
<path class="r" d="M915.52 229.0h1.05V239.1h-1.05zM914.75 233.1h2.6V237.6h-2.6z"/>
<path class="g" d="M918.03 223.4h1.05V238.1h-1.05zM917.25 226.8h2.6V237.6h-2.6z"/>
<path class="g" d="M920.53 207.7h1.05V227.2h-1.05zM919.76 213.6h2.6V226.8h-2.6z"/>
<path class="g" d="M923.04 202.6h1.05V219.0h-1.05zM922.27 207.9h2.6V213.6h-2.6z"/>
<path class="g" d="M925.55 192.4h1.05V211.7h-1.05zM924.77 196.5h2.6V207.9h-2.6z"/>
</g>
<g id="bolt">
<circle cx="925.9" cy="445.75" r="9.3" fill="#fff" stroke="#9c27b0" stroke-width="1.35"/>
<path d="M928.7 440.6 L922.3 446.5 L925.5 446.5 L923.3 451 L929.8 445 L926.5 445 Z" fill="#9c27b0"/>
</g>
</svg>
<div id="titlebar">
<span class="w ti" style="left:9.80px;top:6.82px;transform:scaleX(0.929)">martin_arrua89</span>
<span class="w ti" style="left:91.80px;top:6.82px;transform:scaleX(0.904)">creado</span>
<span class="w ti" style="left:130.10px;top:6.82px;transform:scaleX(0.896)">con</span>
<span class="w ti" style="left:151.40px;top:6.82px;transform:scaleX(0.920)">TradingView.com,</span>
<span class="w ti" style="left:244.80px;top:6.82px;transform:scaleX(0.957)">el</span>
<span class="w ti" style="left:257.34px;top:6.82px;transform:scaleX(0.800)">Sep</span>
<span class="w ti" style="left:280.00px;top:6.82px;transform:scaleX(0.852)">10,</span>
<span class="w ti" style="left:298.80px;top:6.82px;transform:scaleX(0.849)">2025</span>
<span class="w ti" style="left:327.00px;top:6.82px;transform:scaleX(0.853)">18:52</span>
<span class="w ti" style="left:357.60px;top:6.82px;transform:scaleX(0.820)">UTC+2</span>
</div>
<div id="legend">
<span class="w lg" style="left:16.56px;top:33.17px;transform:scaleX(0.800)">SOL</span>
<span class="w lg" style="left:41.10px;top:33.17px;transform:scaleX(1.150)">/</span>
<span class="w lg" style="left:49.00px;top:33.17px;transform:scaleX(0.894)">TetherUS</span>
<span class="w lg dot" style="left:98.30px;top:33.17px;transform:scaleX(1.000)">·</span>
<span class="w lg" style="left:105.94px;top:33.17px;transform:scaleX(0.800)">1D</span>
<span class="w lg dot" style="left:121.90px;top:33.17px;transform:scaleX(1.000)">·</span>
<span class="w lg" style="left:128.90px;top:33.17px;transform:scaleX(0.901)">Binance</span>
<span class="w lg" style="left:176.30px;top:33.17px;transform:scaleX(0.800)">O</span><span class="w lg g" style="left:184.10px;top:33.17px;transform:scaleX(0.888)">217,22</span>
<span class="w lg" style="left:224.01px;top:33.17px;transform:scaleX(0.986)">H</span><span class="w lg g" style="left:232.50px;top:33.17px;transform:scaleX(0.904)">226,00</span>
<span class="w lg" style="left:272.35px;top:33.17px;transform:scaleX(0.950)">L</span><span class="w lg g" style="left:279.60px;top:33.17px;transform:scaleX(0.883)">215,09</span>
<span class="w lg" style="left:319.35px;top:33.17px;transform:scaleX(0.800)">C</span><span class="w lg g" style="left:326.80px;top:33.17px;transform:scaleX(0.888)">223,37</span>
<span class="w lg g" style="left:368.30px;top:33.17px;transform:scaleX(0.856)">+6,16</span>
<span class="w lg g" style="left:399.70px;top:33.17px;transform:scaleX(0.843)">(+2,84%)</span>
</div>
<div id="timeaxis">
<span class="w tl" style="left:54.70px;top:463.57px;transform:scaleX(0.899)">Oct</span>
<span class="w tl" style="left:130.81px;top:463.57px;transform:scaleX(0.890)">Nov</span>
<span class="w tl" style="left:207.87px;top:463.57px;transform:scaleX(0.927)">Dic</span>
<span class="w tl b" style="left:281.10px;top:463.57px;transform:scaleX(0.937)">2025</span>
<span class="w tl" style="left:361.92px;top:463.57px;transform:scaleX(0.880)">Feb</span>
<span class="w tl" style="left:431.69px;top:463.57px;transform:scaleX(0.913)">Mar</span>
<span class="w tl" style="left:511.20px;top:463.57px;transform:scaleX(0.894)">Abr</span>
<span class="w tl" style="left:581.01px;top:463.57px;transform:scaleX(0.889)">Mayo</span>
<span class="w tl" style="left:663.70px;top:463.57px;transform:scaleX(0.933)">Jun</span>
<span class="w tl" style="left:740.40px;top:463.57px;transform:scaleX(0.995)">Jul</span>
<span class="w tl" style="left:816.20px;top:463.57px;transform:scaleX(0.844)">Ago</span>
<span class="w tl" style="left:894.30px;top:463.57px;transform:scaleX(0.813)">Sep</span>
</div>
<div id="priceaxis">
<span class="w pl" style="left:960.50px;top:54.07px;transform:scaleX(0.901)">300,00</span>
<span class="w pl" style="left:960.50px;top:89.27px;transform:scaleX(0.901)">280,00</span>
<span class="w pl" style="left:960.50px;top:124.47px;transform:scaleX(0.901)">260,00</span>
<span class="w pl" style="left:960.50px;top:159.67px;transform:scaleX(0.901)">240,00</span>
<span class="w pl" style="left:960.50px;top:230.07px;transform:scaleX(0.901)">200,00</span>
<span class="w pl" style="left:960.50px;top:265.27px;transform:scaleX(0.901)">180,00</span>
<span class="w pl" style="left:960.50px;top:300.47px;transform:scaleX(0.901)">160,00</span>
<span class="w pl" style="left:960.50px;top:335.67px;transform:scaleX(0.901)">140,00</span>
<span class="w pl" style="left:960.50px;top:370.87px;transform:scaleX(0.901)">120,00</span>
<span class="w pl" style="left:960.50px;top:406.07px;transform:scaleX(0.901)">100,00</span>
<span class="w pl" style="left:960.50px;top:441.27px;transform:scaleX(0.915)">80,00</span>
</div>
<div id="mask" class="abs"></div>
<div id="usdt" class="abs"></div>
<span class="w us" style="left:964.16px;top:35.87px;transform:scaleX(0.800)">USDT</span>
<div id="plabel" class="abs"></div>
<span class="w pp" style="left:960.70px;top:188.52px;transform:scaleX(0.891)">223,37</span>
<span class="w pt" style="left:960.70px;top:201.82px;transform:scaleX(0.921)">07:07:40</span>
<svg id="logo" class="abs" width="28.9" height="22.5" viewBox="0 0 36 28"><path d="M14 22H7V11H0V4h14v18zM28 22h-8l7.5-18h8L28 22z" fill="#131722"/><circle cx="20" cy="8" r="4" fill="#131722"/></svg>
<div id="logotext" class="abs">TradingView</div>
</body>
</html>
